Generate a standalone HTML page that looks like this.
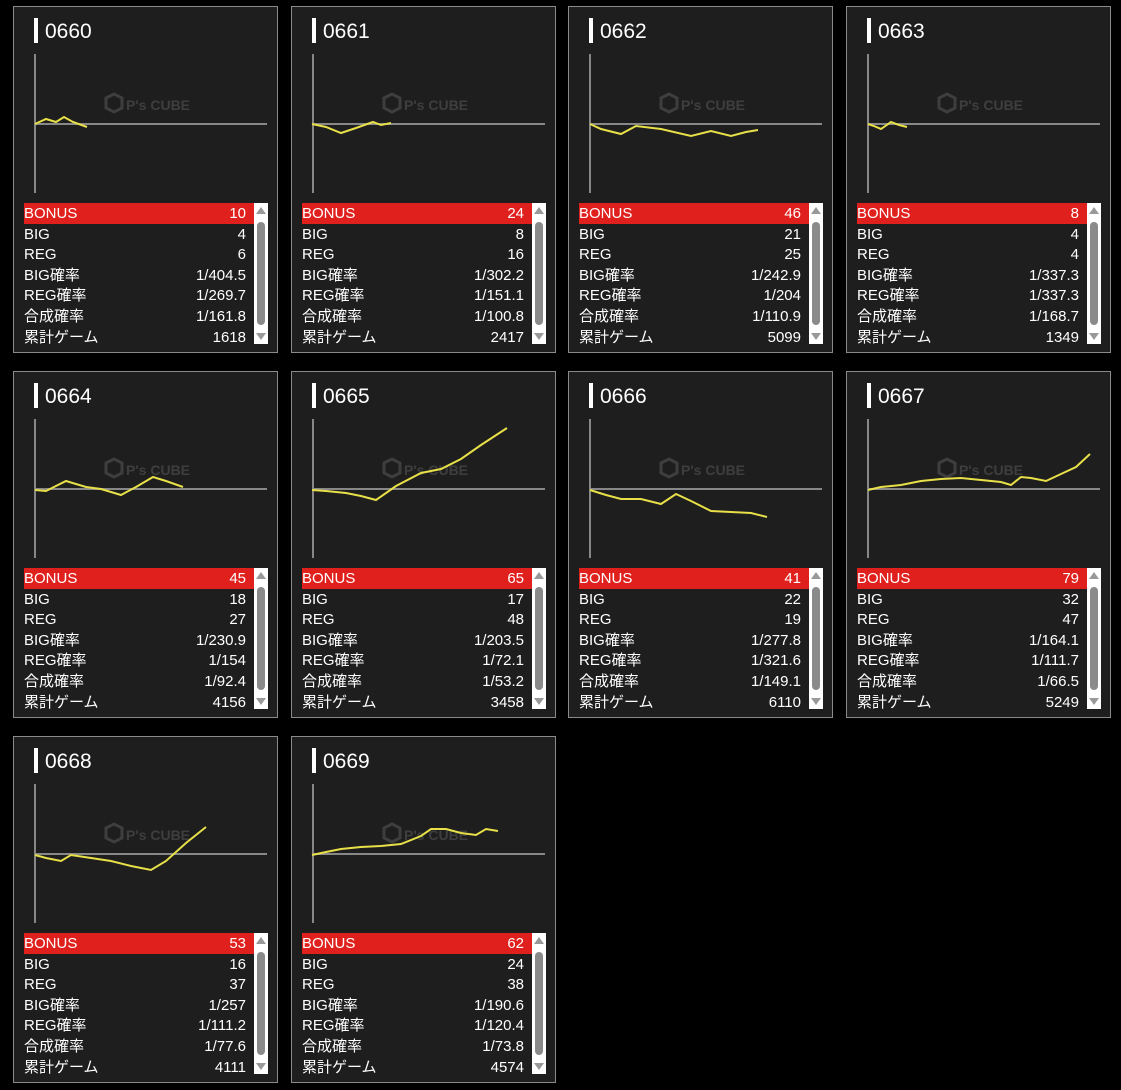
<!DOCTYPE html>
<html><head><meta charset="utf-8"><style>
body{margin:0;background:#000;width:1121px;height:1090px;position:relative;overflow:hidden;font-family:"Liberation Sans","Noto Sans CJK JP",sans-serif;}
.card{position:absolute;width:263px;height:345px;background:#1e1e1e;border:1px solid #8a8a8a;}
.bar{position:absolute;left:20px;top:11px;width:4px;height:25px;background:#fff;}
.title{position:absolute;left:31px;top:12px;font-size:21px;color:#fff;line-height:26px;}
svg{position:absolute;left:0;top:0;}
.tbl{position:absolute;left:10px;top:196px;width:230px;}
.row{height:20.6px;line-height:22px;font-size:15px;color:#fff;display:flex;justify-content:space-between;padding:0 8px 0 0;}
.row.red{background:#e0201c;}
.sb{position:absolute;left:240px;top:196px;width:14px;height:141px;background:#fff;}
.sb .th{position:absolute;left:3px;top:19px;width:8px;height:103px;background:#8a8a8a;border-radius:4px;}
.sb .up{position:absolute;left:2px;top:4px;border-left:5px solid transparent;border-right:5px solid transparent;border-bottom:7px solid #999;}
.sb .dn{position:absolute;left:2px;bottom:4px;border-left:5px solid transparent;border-right:5px solid transparent;border-top:7px solid #999;}
</style></head><body>
<div id="root"></div>
<script>
var cards=[
["0660",[10,4,6,"1/404.5","1/269.7","1/161.8",1618],[[34,123],[45,118],[55,121],[63,116],[72,121],[86,126]]],
["0661",[24,8,16,"1/302.2","1/151.1","1/100.8",2417],[[311,123],[325,126],[340,132],[355,127],[372,121],[380,124],[390,122]]],
["0662",[46,21,25,"1/242.9","1/204","1/110.9",5099],[[589,123],[600,128],[620,133],[635,125],[660,128],[690,135],[710,130],[730,135],[745,131],[757,129]]],
["0663",[8,4,4,"1/337.3","1/337.3","1/168.7",1349],[[867,123],[873,125],[880,128],[890,121],[898,124],[906,126]]],
["0664",[45,18,27,"1/230.9","1/154","1/92.4",4156],[[34,489],[45,490],[65,480],[85,486],[100,488],[120,494],[135,486],[152,476],[165,480],[182,486]]],
["0665",[65,17,48,"1/203.5","1/72.1","1/53.2",3458],[[311,489],[325,490],[345,492],[360,495],[375,499],[395,485],[420,472],[440,468],[460,458],[480,444],[506,427]]],
["0666",[41,22,19,"1/277.8","1/321.6","1/149.1",6110],[[589,489],[605,494],[620,498],[640,498],[660,503],[675,493],[690,500],[710,510],[730,511],[750,512],[766,516]]],
["0667",[79,32,47,"1/164.1","1/111.7","1/66.5",5249],[[867,489],[880,486],[900,484],[920,480],[940,478],[960,477],[980,479],[1000,481],[1010,484],[1020,476],[1030,477],[1045,480],[1060,473],[1075,466],[1089,453]]],
["0668",[53,16,37,"1/257","1/111.2","1/77.6",4111],[[34,854],[45,857],[60,860],[70,854],[90,857],[110,860],[130,865],[150,869],[165,860],[185,842],[205,826]]],
["0669",[62,24,38,"1/190.6","1/120.4","1/73.8",4574],[[311,854],[325,851],[340,848],[360,846],[380,845],[400,843],[420,835],[430,828],[445,828],[460,832],[475,834],[485,828],[497,830]]]
];
var xs=[13,291,568,846],ys=[6,371,736],labels=["BONUS","BIG","REG","BIG確率","REG確率","合成確率","累計ゲーム"];
var h="";
cards.forEach(function(c,i){
 var ox=xs[i%4],oy=ys[Math.floor(i/4)];
 var pts=c[2].map(function(p){return (p[0]-ox)+","+(p[1]-oy)}).join(" ");
 h+='<div class="card" style="left:'+ox+'px;top:'+oy+'px"><div class="bar"></div><div class="title">'+c[0]+'</div>';
 h+='<svg width="263" height="200"><line x1="21" y1="47" x2="21" y2="186" stroke="#aaa" stroke-width="1.5"/><line x1="21" y1="117" x2="253" y2="117" stroke="#888" stroke-width="2"/>';
 h+='<g opacity="0.3" fill="#888"><polygon points="92,91 100,87 108,91 108,101 100,105 92,101" fill="none" stroke="#888" stroke-width="3"/><text x="112" y="103" font-size="14" font-weight="bold" font-family="Liberation Sans">P\'s CUBE</text></g>';
 h+='<polyline points="'+pts+'" fill="none" stroke="#e8e048" stroke-width="2"/></svg>';
 h+='<div class="tbl">';
 for(var k=0;k<7;k++){h+='<div class="row'+(k==0?' red':'')+'"><span>'+labels[k]+'</span><span>'+c[1][k]+'</span></div>';}
 h+='</div><div class="sb"><div class="up"></div><div class="th"></div><div class="dn"></div></div></div>';
});
document.getElementById("root").innerHTML=h;
</script>
</body></html>
